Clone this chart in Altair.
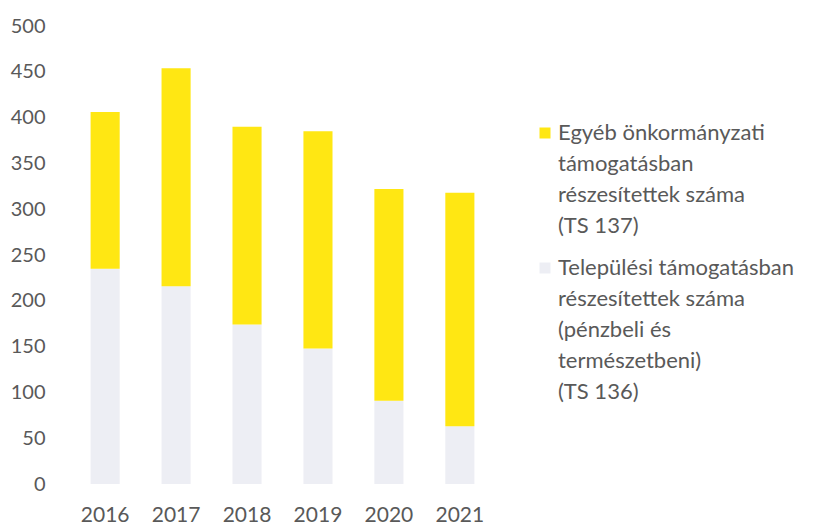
import altair as alt
import pandas as pd

years = ["2016", "2017", "2018", "2019", "2020", "2021"]
telepulesi = [235, 216, 174, 148, 91, 63]
egyeb = [171, 238, 216, 237, 231, 255]

s_egyeb = "Egyéb önkormányzati|támogatásban|részesítettek száma|(TS 137)"
s_telep = "Települési támogatásban|részesítettek száma|(pénzbeli és|természetbeni)|(TS 136)"

rows = []
for y, t, e in zip(years, telepulesi, egyeb):
    rows.append({"year": y, "series": s_telep, "value": t, "ord": 0})
    rows.append({"year": y, "series": s_egyeb, "value": e, "ord": 1})
df = pd.DataFrame(rows)

FONT = "Lato"
TXT = "#595959"

chart = alt.Chart(df).mark_bar().encode(
    x=alt.X("year:N", title=None,
            scale=alt.Scale(paddingInner=0.59, paddingOuter=0.53),
            axis=alt.Axis(labelAngle=0, domain=False, ticks=False, labelPadding=20,
                          labelFont=FONT, labelFontSize=21, labelColor=TXT)),
    y=alt.Y("value:Q", title=None, stack="zero",
            scale=alt.Scale(domain=[0, 500]),
            axis=alt.Axis(values=list(range(0, 501, 50)), domain=False, ticks=False,
                          grid=False, labelPadding=8,
                          labelFont=FONT, labelFontSize=20, labelColor=TXT)),
    color=alt.Color("series:N",
                    scale=alt.Scale(domain=[s_egyeb, s_telep], range=["#FFE713", "#EDEEF4"]),
                    legend=alt.Legend(title=None, orient="none", legendX=481, legendY=96,
                                      labelExpr="split(datum.label, '|')",
                                      labelFont=FONT, labelFontSize=22, labelColor=TXT,
                                      labelLimit=400, symbolType="square", symbolSize=121,
                                      symbolStrokeWidth=0, rowPadding=20, labelOffset=2)),
    order=alt.Order("ord:Q", sort="ascending"),
).properties(
    width=459, height=458,
    padding={"left": 2, "top": 8, "right": 5, "bottom": 0},
).configure(style={"guide-label": {"lineHeight": 31}}).configure_view(stroke=None)

chart.save("out.html", embed_options={"renderer": "svg", "actions": False})
